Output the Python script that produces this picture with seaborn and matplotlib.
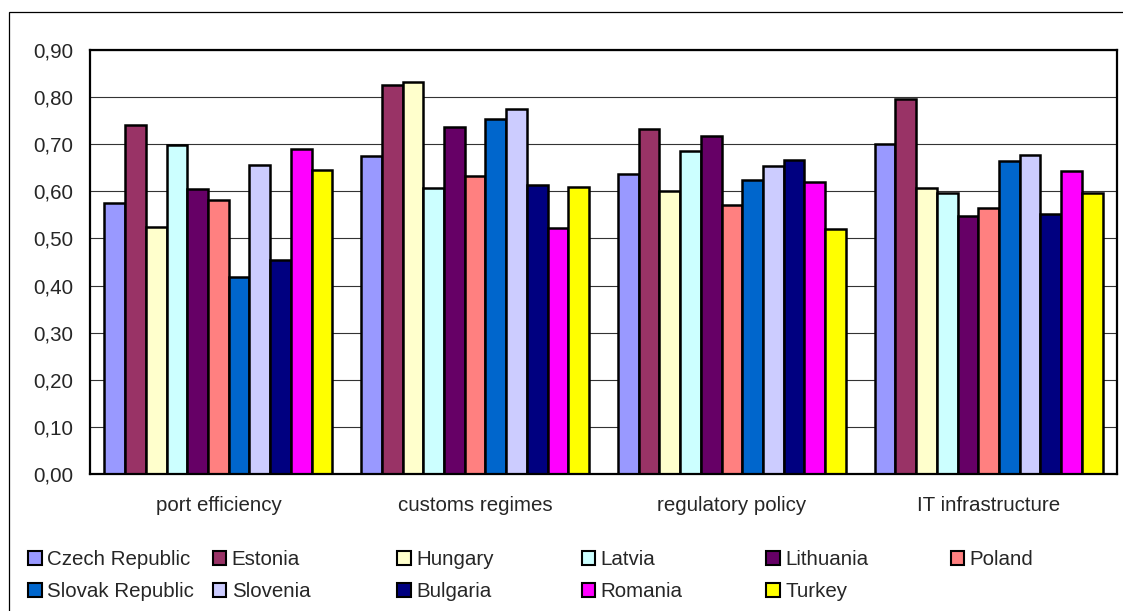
import numpy as np
import pandas as pd
import matplotlib.pyplot as plt
import seaborn as sns
from matplotlib.patches import Rectangle, Patch
from matplotlib.ticker import FuncFormatter, NullFormatter, FixedLocator

# Data
categories = ["port efficiency", "customs regimes", "regulatory policy", "IT infrastructure"]
countries = ["Czech Republic", "Estonia", "Hungary", "Latvia", "Lithuania", "Poland",
             "Slovak Republic", "Slovenia", "Bulgaria", "Romania", "Turkey"]
port_efficiency = [0.575, 0.740, 0.525, 0.698, 0.604, 0.582, 0.419, 0.655, 0.454, 0.690, 0.646]
customs_regimes = [0.675, 0.826, 0.833, 0.608, 0.737, 0.632, 0.753, 0.775, 0.614, 0.523, 0.609]
regulatory_policy = [0.637, 0.733, 0.600, 0.686, 0.717, 0.571, 0.624, 0.653, 0.667, 0.619, 0.520]
it_infrastructure = [0.700, 0.795, 0.607, 0.597, 0.547, 0.565, 0.664, 0.677, 0.552, 0.643, 0.597]
colors = ["#9999FF", "#993366", "#FFFFCC", "#CCFFFF", "#660066", "#FF8080",
          "#0066CC", "#CCCCFF", "#000080", "#FF00FF", "#FFFF00"]

rows = []
for cat, vals in zip(categories, [port_efficiency, customs_regimes, regulatory_policy, it_infrastructure]):
    for c, v in zip(countries, vals):
        rows.append({"category": cat, "country": c, "value": v})
df = pd.DataFrame(rows)

sns.set_style("white")
plt.rcParams["font.family"] = ["Liberation Sans", "DejaVu Sans"]
FS = 14.8
W, H = 1123, 611

fig = plt.figure(figsize=(W / 100, H / 100), dpi=100)
ax = fig.add_axes([90 / W, 1 - 474 / H, (1117 - 90) / W, (474 - 50) / H])

sns.barplot(data=df, x="category", y="value", hue="country", order=categories,
            hue_order=countries, palette=colors, width=0.888, gap=0,
            edgecolor="black", linewidth=1.8, saturation=1, legend=False, ax=ax)

ax.set_ylim(0, 0.9)
ax.set_xlim(-0.5, 3.5)
ax.set_yticks(np.arange(0, 0.91, 0.1))
ax.yaxis.set_major_formatter(FuncFormatter(lambda v, p: f"{v:.2f}".replace(".", ",")))
ax.grid(axis="y", color="#333333", linewidth=0.8)
ax.set_axisbelow(True)
ax.set_xlabel("")
ax.set_ylabel("")

# category boundaries as ticks, labels centred between them
ax.xaxis.set_major_locator(FixedLocator([-0.5, 0.5, 1.5, 2.5, 3.5]))
ax.xaxis.set_major_formatter(NullFormatter())
ax.xaxis.set_minor_locator(FixedLocator([0, 1, 2, 3]))
ax.set_xticklabels(categories, minor=True)
ax.tick_params(axis="x", which="major", direction="out", length=4, width=1, color="black")
ax.tick_params(axis="x", which="minor", length=0, pad=16, labelsize=FS)
ax.tick_params(axis="y", direction="out", length=4, width=1, color="black", labelsize=FS, pad=8)

for s in ["left", "bottom", "top", "right"]:
    ax.spines[s].set_visible(True)
    ax.spines[s].set_color("black")
    ax.spines[s].set_linewidth(1.6)

# legend: one small legend per column so the columns are evenly spaced, as in the original
handles = [Patch(facecolor=c, edgecolor="black", linewidth=1.5) for c in colors]
col_x = [28, 212.5, 397, 581.5, 766, 950.5]
for j, x in enumerate(col_x):
    idx = [i for i in (j, j + 6) if i < len(countries)]
    fig.legend([handles[i] for i in idx], [countries[i] for i in idx],
               loc="upper left", bbox_to_anchor=(x / W, 1 - 550 / H), frameon=False,
               fontsize=FS, handlelength=0.68, handleheight=0.68, handletextpad=0.25,
               labelspacing=0.65, borderaxespad=0, borderpad=0)

# outer chart frame (runs off the right and bottom edges)
fig.patches.append(Rectangle((8.5 / W, -0.1), 1.2, 1.1 - 12 / H,
                             transform=fig.transFigure, fill=False, edgecolor="black",
                             linewidth=0.9))

fig.savefig("out.png", dpi=100)
